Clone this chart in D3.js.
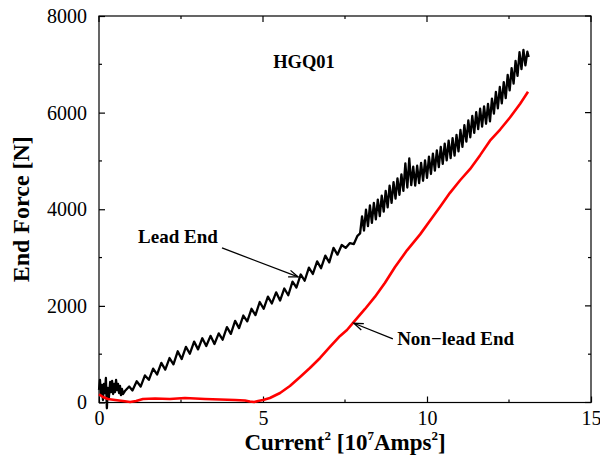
<!DOCTYPE html>
<html><head><meta charset="utf-8">
<script src="https://cdn.jsdelivr.net/npm/d3@7"></script>
<style>body{margin:0;background:#fff}svg{display:block}</style>
</head><body>
<svg id="chart" width="600" height="462"></svg>
<script>
// ---- data ----
const leadX = [0,0.03,0.06,0.09,0.12,0.15,0.18,0.21,0.24,0.27,0.30,0.34,0.37,0.40,0.43,0.46,0.49,0.52,0.55,0.58,0.61,0.64,0.67,0.70,0.73,0.79,
0.92,1.02,1.15,1.27,1.40,1.52,1.65,1.77,1.90,2.02,2.15,2.27,2.40,2.52,2.65,2.77,2.90,3.02,3.15,3.27,3.40,3.52,3.65,3.77,3.90,4.02,4.15,4.27,4.40,4.52,4.65,4.77,4.90,5.02,5.15,5.27,5.40,5.52,5.65,5.77,5.90,6.02,6.15,6.27,6.40,6.52,6.65,6.77,6.90,7.02,7.15,7.27,7.40,7.52,7.65,7.77,7.88,
7.96,8.02,8.08,8.14,8.20,8.26,8.32,8.38,8.44,8.50,8.56,8.62,8.68,8.74,8.80,8.86,8.92,8.98,9.04,9.10,9.16,9.22,9.28,9.34,9.40,9.46,9.52,9.58,9.64,9.70,9.76,9.82,9.88,9.94,10.00,10.06,10.12,10.18,10.24,10.30,10.36,10.42,10.48,10.54,10.60,10.66,10.72,10.78,10.84,10.90,10.96,11.02,11.08,11.14,11.20,11.26,11.32,11.38,11.44,11.50,11.56,11.62,11.68,11.74,11.80,11.86,11.92,11.98,12.04,12.10,12.16,12.22,12.28,12.34,12.40,12.46,12.52,12.58,12.64,12.70,12.76,12.82,12.88,12.94,13.00,13.06,13.10];
const leadY = [259,466,155,362,52,383,197,507,-120,300,93,424,217,445,176,383,217,466,259,383,197,342,155,280,176,238,
330,250,440,330,560,470,700,580,820,680,920,790,1060,900,1150,1010,1260,1100,1330,1170,1380,1210,1430,1300,1560,1420,1690,1540,1800,1680,1940,1810,2080,1940,2190,2050,2280,2110,2360,2220,2500,2380,2650,2520,2790,2660,2920,2780,3040,2900,3200,3060,3260,3200,3300,3280,3450,
3500,3850,3560,3990,3650,4080,3720,4130,3790,4200,3860,4280,3950,4380,4040,4490,4130,4560,4220,4640,4300,4720,4380,4950,4450,5050,4500,4880,4490,4900,4540,4960,4590,5010,4650,5090,4730,5150,4800,5220,4870,5290,4940,5360,5010,5420,5060,5470,5110,5540,5200,5640,5290,5740,5400,5840,5490,5930,5580,6010,5660,6080,5710,6130,5770,6180,5820,6290,5980,6430,6090,6530,6190,6630,6300,6780,6460,6920,6600,7070,6760,7250,6900,7300,6980,7260,7150];

const nonLeadX = [0,0.12,0.27,0.49,0.73,0.95,1.13,1.34,1.71,2.16,2.62,2.93,3.23,3.69,4.15,4.45,4.60,4.73,4.85,5.00,5.21,5.52,5.82,6.13,6.43,6.74,7.04,7.35,7.56,7.77,8.11,8.41,8.72,9.02,9.39,9.79,10.09,10.40,10.70,11.01,11.31,11.62,11.92,12.23,12.53,12.84,13.08];
const nonLeadY = [170,114,72,52,31,10,31,72,83,72,93,83,72,62,52,41,21,10,31,52,93,197,342,528,714,922,1149,1377,1501,1667,1936,2185,2480,2800,3150,3480,3760,4050,4340,4600,4830,5120,5420,5650,5900,6185,6431];

const xMajorTicks = [0,5,10,15];
const xMinorTicks = [2.5,7.5,12.5];
const yMajorTicks = [0,2000,4000,6000,8000];
const yMinorTicks = [1000,3000,5000,7000];

const titleText = "HGQ01";
const leadLabel = "Lead End";
const nonLeadLabel = "Non\u2212lead End";

// ---- layout ----
const L = 99, R = 591, T = 16, B = 402.5;
const svg = d3.select("#chart");
const x = d3.scaleLinear().domain([0,15]).range([L,R]);
const y = d3.scaleLinear().domain([0,8000]).range([B,T]);
const serif = "'Liberation Serif','Times New Roman',Times,serif";

// frame
svg.append("rect").attr("x",L).attr("y",T).attr("width",R-L).attr("height",B-T)
  .attr("fill","none").attr("stroke","#000").attr("stroke-width",1.2);

// axes with inward ticks
const gx = svg.append("g").attr("transform",`translate(0,${B})`)
  .call(d3.axisBottom(x).tickValues(xMajorTicks).tickSize(-6).tickPadding(8).tickFormat(d3.format("d")));
const gy = svg.append("g").attr("transform",`translate(${L},0)`)
  .call(d3.axisLeft(y).tickValues(yMajorTicks).tickSize(-6).tickPadding(12).tickFormat(d3.format("d")));
[gx,gy].forEach(g=>{
  g.select(".domain").remove();
  g.selectAll("line").attr("stroke","#000").attr("stroke-width",1.2);
  g.selectAll("text").attr("font-family",serif).attr("font-size",20).attr("fill","#000");
});
// top/right ticks and minor ticks
const tk = svg.append("g").attr("stroke","#000").attr("stroke-width",1.2);
xMajorTicks.forEach(v=>{ tk.append("line").attr("x1",x(v)).attr("x2",x(v)).attr("y1",T).attr("y2",T+6); });
xMinorTicks.forEach(v=>{
  tk.append("line").attr("x1",x(v)).attr("x2",x(v)).attr("y1",B).attr("y2",B-3);
  tk.append("line").attr("x1",x(v)).attr("x2",x(v)).attr("y1",T).attr("y2",T+3);
});
yMajorTicks.forEach(v=>{ tk.append("line").attr("x1",R).attr("x2",R-6).attr("y1",y(v)).attr("y2",y(v)); });
yMinorTicks.forEach(v=>{
  tk.append("line").attr("x1",L).attr("x2",L+3).attr("y1",y(v)).attr("y2",y(v));
  tk.append("line").attr("x1",R).attr("x2",R-3).attr("y1",y(v)).attr("y2",y(v));
});

// lines
const line = d3.line().x(d=>x(d[0])).y(d=>y(d[1]));
svg.append("path").datum(d3.zip(leadX,leadY)).attr("d",line)
  .attr("fill","none").attr("stroke","#000").attr("stroke-width",2.3).attr("stroke-linejoin","round");
svg.append("path").datum(d3.zip(nonLeadX,nonLeadY)).attr("d",line)
  .attr("fill","none").attr("stroke","#ff0000").attr("stroke-width",2.6).attr("stroke-linejoin","round");

// annotations
function arrow(x0,y0,x1,y1){
  const px0=x(x0),py0=y(y0),px1=x(x1),py1=y(y1);
  const a=Math.atan2(py1-py0,px1-px0), len=10, sp=0.35;
  svg.append("line").attr("x1",px0).attr("y1",py0).attr("x2",px1).attr("y2",py1)
    .attr("stroke","#000").attr("stroke-width",1.3);
  svg.append("path").attr("d",`M${px1-len*Math.cos(a-sp)},${py1-len*Math.sin(a-sp)}L${px1},${py1}L${px1-len*Math.cos(a+sp)},${py1-len*Math.sin(a+sp)}`)
    .attr("fill","none").attr("stroke","#000").attr("stroke-width",1.3);
}
svg.append("text").attr("x",x(6.25)).attr("y",y(6928)).attr("text-anchor","middle")
  .attr("font-family",serif).attr("font-weight","bold").attr("font-size",18.5).text(titleText);
svg.append("text").attr("x",x(1.19)).attr("y",y(3303))
  .attr("font-family",serif).attr("font-weight","bold").attr("font-size",19).text(leadLabel);
arrow(3.75,3200,6.07,2599);
svg.append("text").attr("x",x(9.09)).attr("y",y(1190))
  .attr("font-family",serif).attr("font-weight","bold").attr("font-size",19).text(nonLeadLabel);
arrow(8.96,1315,7.77,1640);

// axis titles
const xt = svg.append("text").attr("x",(L+R)/2 +0).attr("y",450).attr("text-anchor","middle")
  .attr("font-family",serif).attr("font-weight","bold").attr("font-size",23);
xt.append("tspan").text("Current");
xt.append("tspan").attr("font-size",13).attr("dy",-10).text("2");
xt.append("tspan").attr("dy",10).text(" [10");
xt.append("tspan").attr("font-size",13).attr("dy",-10).text("7");
xt.append("tspan").attr("dy",10).text("Amps");
xt.append("tspan").attr("font-size",13).attr("dy",-10).text("2");
xt.append("tspan").attr("dy",10).text("]");
svg.append("text").attr("transform",`translate(29,${(T+B)/2}) rotate(-90)`).attr("text-anchor","middle")
  .attr("font-family",serif).attr("font-weight","bold").attr("font-size",24).text("End Force [N]");
</script>
</body></html>
